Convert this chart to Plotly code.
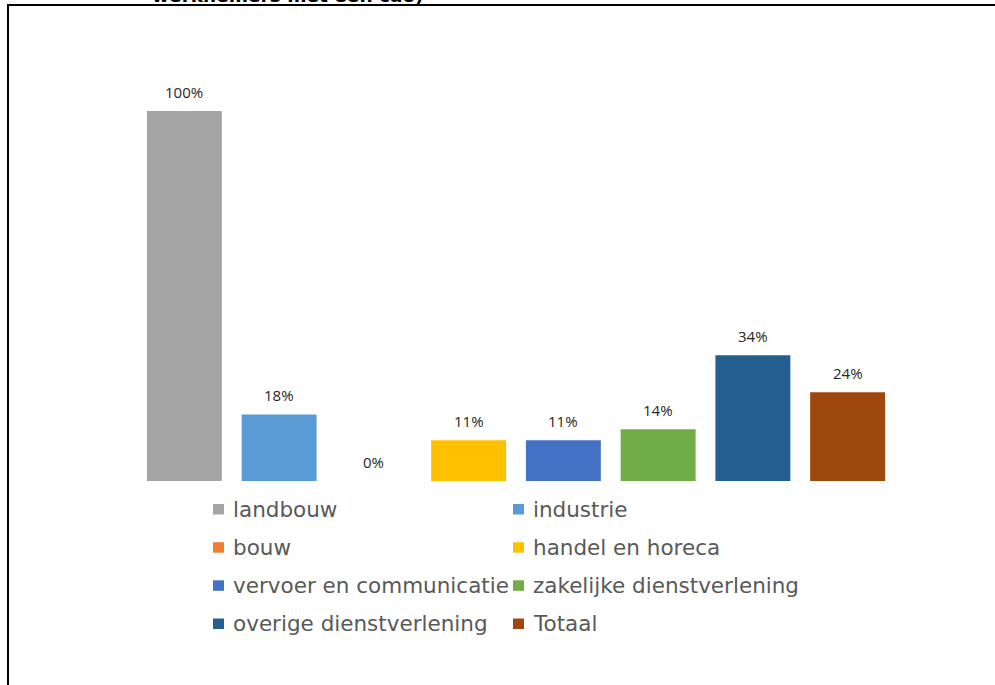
import plotly.graph_objects as go

# Share of employers per sector (percent)
categories = [
    "landbouw",
    "industrie",
    "bouw",
    "handel en horeca",
    "vervoer en communicatie",
    "zakelijke dienstverlening",
    "overige dienstverlening",
    "Totaal",
]
values = [100, 18, 0, 11, 11, 14, 34, 24]
colors = [
    "#A5A5A5", "#5B9BD5", "#ED7D31", "#FFC000",
    "#4472C4", "#70AD47", "#255E91", "#9E480E",
]
title_text = "werknemers met een cao)"

W, H = 995, 685
M_L, M_R, M_T, M_B = 137, 100, 45, 204
PW, PH = W - M_L - M_R, H - M_T - M_B


def px_x(x):
    return (x - M_L) / PW


def px_y(y):
    return 1 - (y - M_T) / PH


fig = go.Figure()
fig.add_trace(go.Bar(
    x=categories,
    y=values,
    marker=dict(color=colors, line=dict(width=0)),
    showlegend=False,
    hoverinfo="x+y",
))

annotations = []
# value labels above each bar
for c, v in zip(categories, values):
    annotations.append(dict(
        x=c, y=v, xref="x", yref="y", text=f"{v}%", showarrow=False,
        yanchor="bottom", yshift=7,
        font=dict(family="Open Sans", size=15, color="#262626"),
    ))

# two-column legend below the bars
shapes = []
row_y = [509, 547.2, 585.3, 623.5]
col_x = [213, 513]
for i, (c, col) in enumerate(zip(categories, colors)):
    r, k = divmod(i, 2)
    x0 = col_x[k]
    yc = row_y[r]
    shapes.append(dict(
        type="rect", xref="paper", yref="paper",
        x0=px_x(x0), x1=px_x(x0 + 11), y0=px_y(yc + 5.5), y1=px_y(yc - 5),
        fillcolor=col, line=dict(width=0), layer="above",
    ))
    annotations.append(dict(
        x=px_x(x0 + 18), y=px_y(yc), xref="paper", yref="paper",
        text=c, showarrow=False, xanchor="left", yanchor="middle",
        font=dict(family="DejaVu Sans", size=21.5, color="#595959"),
    ))

# title line, running off the top of the page
annotations.append(dict(
    x=px_x(150), y=px_y(8), xref="paper", yref="paper",
    text=f"<b>{title_text}</b>", showarrow=False,
    xanchor="left", yanchor="bottom",
    font=dict(family="DejaVu Sans", size=18.5, color="#000000"),
))

# frame
shapes.append(dict(type="line", xref="paper", yref="paper",
                   x0=px_x(7), x1=px_x(W + 5), y0=px_y(5), y1=px_y(5),
                   line=dict(color="#000000", width=2)))
shapes.append(dict(type="line", xref="paper", yref="paper",
                   x0=px_x(8), x1=px_x(8), y0=px_y(4), y1=px_y(H + 5),
                   line=dict(color="#000000", width=2)))

fig.update_layout(
    width=W, height=H,
    margin=dict(l=M_L, r=M_R, t=M_T, b=M_B, pad=0),
    paper_bgcolor="#FFFFFF", plot_bgcolor="#FFFFFF",
    bargap=0.209,
    xaxis=dict(visible=False, range=[-0.5, 7.5], fixedrange=True),
    yaxis=dict(visible=False, range=[0, 117.8], fixedrange=True),
    shapes=shapes,
    annotations=annotations,
)

fig.write_html("out.html", config={"displayModeBar": False})
